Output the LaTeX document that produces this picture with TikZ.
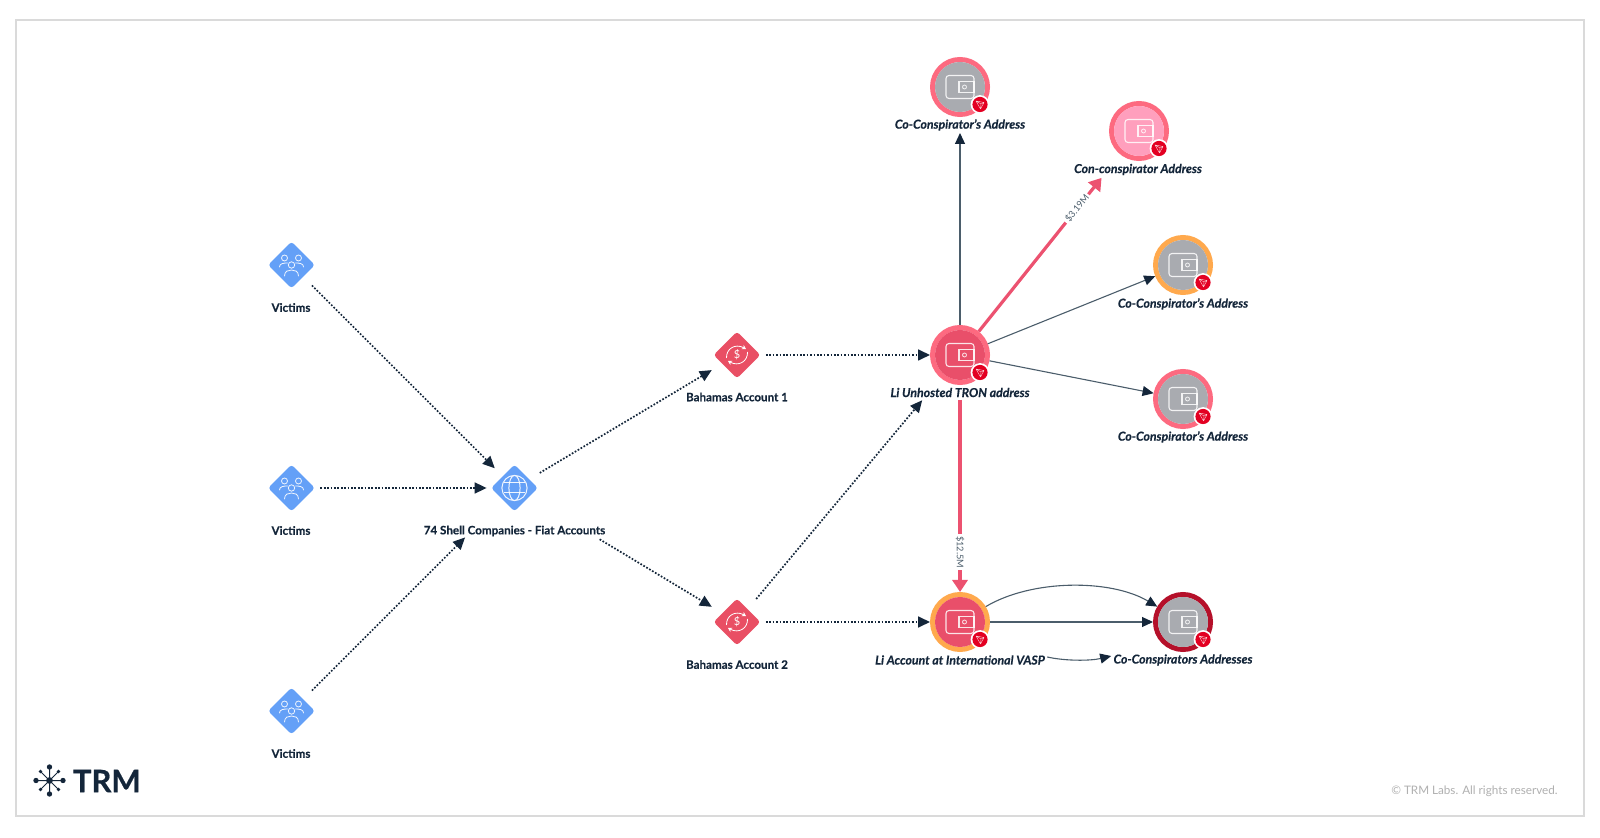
\documentclass[tikz,border=0pt]{standalone}
\usepackage{fontspec}
\setmainfont{Lato}
\usetikzlibrary{arrows.meta,shapes.geometric}
\definecolor{inkdark}{HTML}{14263A}
\definecolor{slateline}{HTML}{4B5D6B}
\definecolor{flowpink}{HTML}{EC5270}
\definecolor{ringpink}{HTML}{FD6A80}
\definecolor{ringorange}{HTML}{FFA94D}
\definecolor{ringdark}{HTML}{B5102A}
\definecolor{fillgray}{HTML}{A9ABB0}
\definecolor{fillpink}{HTML}{FF9FBD}
\definecolor{fillred}{HTML}{E94F6A}
\definecolor{hubblue}{HTML}{64A0F7}
\definecolor{hubred}{HTML}{E94F64}
\definecolor{badgered}{HTML}{E30022}
\definecolor{framegray}{HTML}{DADADA}
\definecolor{copygray}{HTML}{B0B0B0}
\tikzset{
  hub/.style={diamond,aspect=1,inner sep=0pt,minimum width=23.5pt,minimum height=23.5pt,rounded corners=1.5pt,fill=#1},
  walletring/.style={circle,inner sep=0pt,minimum size=27.5pt,line width=2.5pt,draw=#1,fill=white},
  plainlabel/.style={font=\fontsize{5.8}{6}\selectfont\bfseries\addfontfeature{FakeBold=0.3},text=inkdark,inner sep=1pt},
  italiclabel/.style={font=\fontsize{6.15}{6.5}\selectfont\bfseries\itshape\addfontfeature{FakeBold=0.3},text=inkdark,inner sep=1pt},
  amount/.style={font=\fontsize{4.6}{5}\selectfont,text=slateline,fill=white,inner sep=0pt,minimum height=5pt,minimum width=18pt},
  dotflow/.style 2 args={inkdark,line width=0.85pt,dash pattern=on 0.85pt off 0.85pt,shorten <=#1,shorten >=#2,-{Triangle[length=6pt,width=5.5pt]}},
  thinflow/.style={slateline,line width=0.55pt,-{Triangle[length=5.5pt,width=5pt,color=inkdark]}},
  thickflow/.style={flowpink,line width=1.6pt,-{Triangle[length=6pt,width=7.5pt]}},
  walleticon/.pic={
    \draw[white,opacity=0.85,line width=0.55pt,rounded corners=1.5pt] (-14,-11.5) rectangle (14,11.5);
    \draw[white,opacity=0.85,line width=0.55pt] (-1,-5.5) rectangle (14,5.5);
    \draw[white,opacity=0.85,line width=0.4pt] (4.5,0) circle (1pt);
  },
  badgeicon/.pic={
    \fill[white] (0,0) circle (4.7pt);
    \fill[badgered] (0,0) circle (3.8pt);
    \draw[white,opacity=0.8,line width=0.2pt,line join=round] (-4,-3.5) -- (4,-2) -- (0.5,4.5) -- cycle (-4,-3.5) -- (1,-0.5) -- (0.5,4.5) (1,-0.5) -- (4,-2);
  },
  groupicon/.pic={
    \draw[white,opacity=0.9,line width=0.4pt] (-7,-7) circle (1.5pt) (7,-7) circle (1.5pt) (0,0) circle (1.6pt);
    \draw[white,opacity=0.9,line width=0.4pt,line cap=round]
      (-7,11) .. controls (-7,6) and (-3,5) .. (0,5) .. controls (3,5) and (7,6) .. (7,11)
      (-12,2) .. controls (-12,-1.5) and (-8,-2) .. (-4,-2)
      (12,2) .. controls (12,-1.5) and (8,-2) .. (4,-2);
  },
  globeicon/.pic={
    \draw[white,opacity=0.9,line width=0.5pt] (0,0) circle (6.3pt) (0,0) ellipse (2.8pt and 6.3pt);
    \draw[white,opacity=0.9,line width=0.5pt] (-10.5,-5) -- (10.5,-5) (-10.5,5) -- (10.5,5);
  },
  dollaricon/.pic={
    \node[font=\fontsize{5.5}{6}\selectfont,text=white,inner sep=0pt] at (0,0) {\$};
    \draw[white,line width=0.4pt,-{Stealth[length=2pt,width=2.4pt]}] (-10.5,3) .. controls (-11,-6) and (-2,-12) .. (9,-6);
    \draw[white,line width=0.4pt,-{Stealth[length=2pt,width=2.4pt]}] (10.5,-3) .. controls (11,6) and (2,12) .. (-9,6);
  },
}
\newcommand{\walletnode}[5]{%
  \node[walletring=#4] (#1) at (#2,#3) {};
  \fill[#5] (#2,#3) circle (12.5pt);
  \pic at (#2,#3) {walleticon};
  \pic at ({#2+20},{#3+17.5}) {badgeicon};
}
\begin{document}
\begin{tikzpicture}[x=0.5pt,y=-0.5pt]
\useasboundingbox (0,0) rectangle (1600,838);
\fill[white] (0,0) rectangle (1600,838);
\draw[framegray,line width=0.9pt] (16,20) rectangle (1584,816);

% hubs
\node[hub=hubblue] (v1) at (291.5,265) {};
\node[hub=hubblue] (v2) at (291.5,488) {};
\node[hub=hubblue] (v3) at (291.5,711) {};
\node[hub=hubblue] (shell) at (514.5,488) {};
\node[hub=hubred] (b1) at (737,355) {};
\node[hub=hubred] (b2) at (737,622) {};
\pic at (291.5,265) {groupicon};
\pic at (291.5,488) {groupicon};
\pic at (291.5,711) {groupicon};
\pic at (514.5,488) {globeicon};
\pic at (737,355) {dollaricon};
\pic at (737,622) {dollaricon};

% wallets
\walletnode{top}{960}{87}{ringpink}{fillgray}
\walletnode{con}{1139}{131}{ringpink}{fillpink}
\walletnode{li}{960}{355}{ringpink}{fillred}
\walletnode{orange}{1183}{265}{ringorange}{fillgray}
\walletnode{pinkw}{1183}{399}{ringpink}{fillgray}
\walletnode{acct}{960}{622}{ringorange}{fillred}
\walletnode{coadd}{1183}{622}{ringdark}{fillgray}

% labels
\node[plainlabel] (lv1) at (291,307.5) {Victims};
\node[plainlabel] (lv2) at (291,530.5) {Victims};
\node[plainlabel] (lv3) at (291,753.5) {Victims};
\node[plainlabel] (lshell) at (514.5,531) {74 Shell Companies - Fiat Accounts};
\node[plainlabel] (lb1) at (737,397) {Bahamas Account 1};
\node[plainlabel] (lb2) at (737,664.5) {Bahamas Account 2};
\node[italiclabel] (ltop) at (960,125) {Co-Conspirator's Address};
\node[italiclabel] (lcon) at (1138,169.5) {Con-conspirator Address};
\node[italiclabel] (lorange) at (1183,304) {Co-Conspirator's Address};
\node[italiclabel] (lpink) at (1183,437) {Co-Conspirator's Address};
\node[italiclabel] (lli) at (960,392.5) {Li Unhosted TRON address};
\node[italiclabel] (lacct) at (960,660) {Li Account at International VASP};
\node[italiclabel] (lco) at (1183,660) {Co-Conspirators Addresses};

% dotted flows
\draw[dotflow={6pt}{5.5pt}] (v1) -- (shell);
\draw[dotflow={2.5pt}{2pt}] (v2) -- (shell);
\draw[dotflow={6pt}{26.5pt}] (v3) -- (shell);
\draw[dotflow={6pt}{6pt}] (shell) -- (b1);
\draw[dotflow={41pt}{6pt}] (shell) -- (b2);
\draw[dotflow={2.5pt}{0pt}] (b1) -- (li);
\draw[dotflow={2.5pt}{0pt}] (b2) -- (acct);
\draw[dotflow={6.5pt}{14.5pt}] (b2) -- (li);

% solid flows
\draw[thinflow,shorten >=8pt] (li) -- (top);
\draw[thinflow] (li) -- (orange);
\draw[thinflow] (li) -- (pinkw);
\draw[thinflow] (acct) -- (coadd);
\draw[thinflow] (acct) .. controls (1032,579) and (1111,579) .. (coadd);
\draw[thinflow] ([yshift=1.5pt]lacct.east) .. controls (1065,661) and (1090,661) .. ([yshift=2pt]lco.west);
\draw[thickflow,shorten >=15pt] (li) -- node[amount,pos=0.695,rotate=51.3] (a319) {\$3.19M} (con);
\draw[thickflow,shorten <=7.5pt] (li) -- node[amount,pos=0.807,rotate=-90] (a125) {\$12.5M} (acct);

% logo
\node[inner sep=0pt,anchor=west,font=\fontsize{15.5}{16}\selectfont\bfseries\addfontfeature{FakeBold=0.5},text=inkdark] (logo) at (72.5,781) {TRM};
\begin{scope}[shift={(49.5,780.5)}]
  \draw[inkdark,line width=0.5pt] (-13.5,0) -- (13.5,0) (0,-13.5) -- (0,13.5) (-9,-9) -- (9,9) (-9,9) -- (9,-9);
  \fill[inkdark] (0,0) circle (1.7pt);
  \fill[inkdark] (13.5,0) circle (1.35pt) (-13.5,0) circle (1.35pt) (0,13.5) circle (1.35pt) (0,-13.5) circle (1.35pt);
  \fill[inkdark] (9,9) circle (0.9pt) (-9,9) circle (0.9pt) (9,-9) circle (0.9pt) (-9,-9) circle (0.9pt);
\end{scope}
\node[inner sep=0pt,anchor=east,font=\fontsize{5.85}{7}\selectfont,text=copygray] (copy) at (1558,791) {© TRM Labs. All rights reserved.};
\end{tikzpicture}
\end{document}
